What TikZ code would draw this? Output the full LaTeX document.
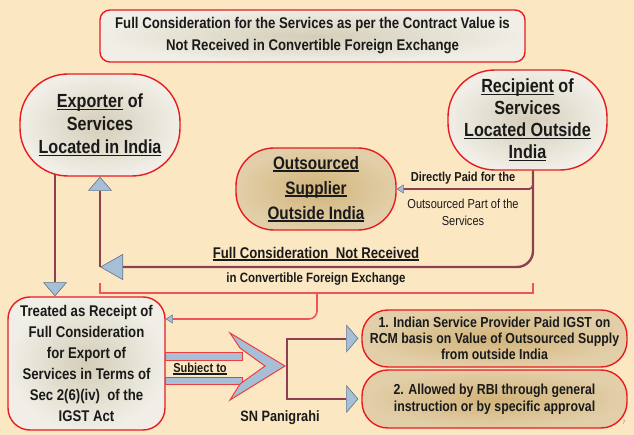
\documentclass[tikz,border=0pt]{standalone}
\usepackage{fontspec}
\setmainfont{Liberation Sans}[FakeStretch=0.85]
\usetikzlibrary{positioning, arrows.meta}

\definecolor{bgpeach}{HTML}{FCE7C3}
\definecolor{rimred}{HTML}{E81C20}
\definecolor{paleface}{HTML}{D4CEB8}
\definecolor{goldface}{HTML}{D2B47A}
\definecolor{wireline}{HTML}{8E4052}
\definecolor{tipblue}{HTML}{A6BFD6}
\definecolor{tipedge}{HTML}{5B7590}
\definecolor{inkdark}{HTML}{1A1A1A}

\newsavebox\ulbox
\newcommand{\undl}[1]{\sbox\ulbox{#1}\rlap{\rule[-2.6pt]{\wd\ulbox}{1.5pt}}\usebox\ulbox}
\newcommand{\fsz}[2]{\fontsize{#1}{#2}\selectfont}

\tikzset{
    bigtip/.tip={Triangle[length=23pt, width=26pt, fill=tipblue, color=tipedge, line width=0.6pt]},
    uptip/.tip={Triangle[length=14pt, width=24pt, fill=tipblue, color=tipedge, line width=0.6pt]},
    boxtip/.tip={Triangle[length=12pt, width=28pt, fill=tipblue, color=tipedge, line width=0.6pt]},
    smalltip/.tip={Triangle[length=7pt, width=9pt, fill=tipblue, color=tipedge, line width=0.5pt]}
}

\begin{document}
\begin{tikzpicture}[
    x=1pt, y=-1pt,
    bubble/.style={draw=rimred, line width=1.4pt, inner color=paleface, outer color=white!65!paleface,
                   align=center, text=inkdark, inner sep=0pt, font=\bfseries},
    goldbubble/.style={bubble, inner color=goldface, outer color=goldface!65!white},
    conn/.style={draw=wireline, line width=2.4pt},
    bracket/.style={draw=rimred!75, line width=1.6pt},
    shaft/.style={fill=tipblue, draw=rimred!85, line width=1pt},
    lbl/.style={text=inkdark, align=center, inner sep=0pt}
]
\fill[bgpeach] (0,0) rectangle (634,435);
\useasboundingbox (0,0) rectangle (634,435);

% boxes
\node[bubble, minimum width=425, minimum height=52, rounded corners=10pt, font=\bfseries\fsz{15.5}{22}] (top) at (312.5,36)
    {Full Consideration for the Services as per the Contract Value is\\Not Received in Convertible Foreign Exchange};
\node[bubble, minimum width=160, minimum height=102, rounded corners=48pt, font=\bfseries\fsz{19}{23}] (exporter) at (100,125)
    {\undl{Exporter} of\\Services\\\undl{Located in India}};
\node[bubble, minimum width=159, minimum height=100, rounded corners=47pt, font=\bfseries\fsz{19}{22}] (recipient) at (527.5,120)
    {\undl{Recipient} of\\Services\\\undl{Located Outside}\\\undl{India}};
\node[goldbubble, minimum width=160, minimum height=82, rounded corners=38pt, font=\bfseries\fsz{18}{25}] (outsourced) at (316,189)
    {\undl{Outsourced}\\\undl{Supplier}\\\undl{Outside India}};
\node[bubble, minimum width=157, minimum height=133, rounded corners=22pt, font=\bfseries\fsz{15.5}{21}] (treated) at (86.5,363.5)
    {Treated as Receipt of\\Full Consideration\\for Export of\\Services in Terms of\\Sec 2(6)(iv)\ \ of the\\IGST Act};
\node[goldbubble, minimum width=265, minimum height=57, rounded corners=26pt, font=\bfseries\fsz{14.5}{16}] (rbiA) at (494.5,338.5)
    {1. Indian Service Provider Paid IGST on\\RCM basis on Value of Outsourced Supply\\from outside India};
\node[goldbubble, minimum width=265, minimum height=58, rounded corners=26pt, font=\bfseries\fsz{14.5}{17}] (rbiB) at (494.5,399)
    {2. Allowed by RBI through general\\instruction or by specific approval};

% labels
\node[lbl, font=\bfseries\fsz{13}{16}] (paidlbl) at (463,178) {Directly Paid for the};
\node[lbl, font=\fsz{13}{17}] (partlbl) at (463,212) {Outsourced Part of the\\Services};
\node[lbl, font=\bfseries\fsz{15.5}{18}] (fulllbl) at (316,254) {\undl{Full Consideration\ \ Not Received}};
\node[lbl, font=\bfseries\fsz{13.5}{16}] (fxlbl) at (316,279) {in Convertible Foreign Exchange};
\node[lbl, font=\bfseries\fsz{13}{16}] (subjlbl) at (200,369) {\undl{Subject to}};
\node[lbl, font=\bfseries\fsz{15}{18}] (author) at (280,418) {SN Panigrahi};
\node[lbl, font=\fsz{6}{7}, text=gray] (pageno) at (624,422) {7};

% connectors
\coordinate (turn) at (100,267);
\coordinate (dropx) at (55,0);
\coordinate (brL) at (100,283);
\coordinate (brR) at (533,283);
\coordinate (brM) at (317,293);
\coordinate (fork) at (287,366);

\draw[conn, line width=1.8pt, rounded corners=4pt, -{smalltip}] ([xshift=5.5pt]recipient.south) |- (outsourced.east);
\draw[conn, rounded corners=16pt, -{bigtip}] ([xshift=5.5pt]recipient.south) |- (turn);
\draw[conn, -{uptip}] (turn) -- (exporter.south);
\draw[conn, -{uptip}] ([yshift=3pt]exporter.south -| dropx) -- (treated.north -| dropx);

\draw[bracket] (brL) -- (brL |- brM) -- (brR |- brM) -- (brR);
\draw[bracket, rounded corners=8pt, -{smalltip}] (brM) |- ([yshift=44.5pt]treated.east);

% subject-to arrow
\draw[shaft] (165,352) rectangle (242,360);
\draw[shaft] (165,377) rectangle (242,384);
\draw[shaft] (230,333) -- (285,366) -- (230,400) -- (240,384) -- (265,366) -- (240,348) -- cycle;

\draw[conn, line width=2pt, -{boxtip}, shorten >=3pt] (fork) |- (rbiA.west);
\draw[conn, line width=2pt, -{boxtip}, shorten >=3pt] (fork) |- (rbiB.west);
\end{tikzpicture}
\end{document}
